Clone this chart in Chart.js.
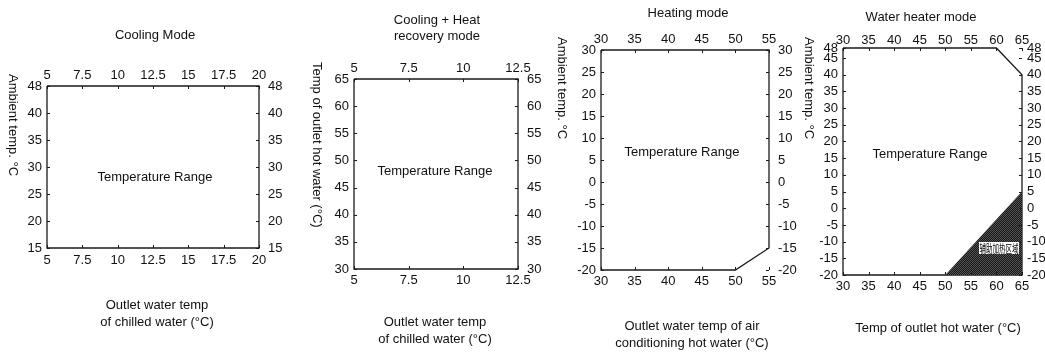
<!DOCTYPE html>
<html><head><meta charset="utf-8">
<script src="https://cdn.jsdelivr.net/npm/chart.js@4/dist/chart.umd.min.js"></script>
<style>
html,body{margin:0;padding:0;background:#fff;width:1045px;height:356px;overflow:hidden}
#wrap{position:relative;width:1045px;height:356px}
canvas{position:absolute;left:0;top:0}
</style></head><body>
<div id="wrap">
<canvas id="c1" width="1045" height="356"></canvas>
<canvas id="c2" width="1045" height="356"></canvas>
<canvas id="c3" width="1045" height="356"></canvas>
<canvas id="c4" width="1045" height="356"></canvas>
</div>
<script>
// ---- data ----
// Panel 1: Cooling Mode
const coolXTicks = [5, 7.5, 10, 12.5, 15, 17.5, 20];
const coolYLabels = ['48', '40', '35', '30', '25', '20', '15'];
const coolRegion = [{x:5,y:'48'},{x:20,y:'48'},{x:20,y:'15'},{x:5,y:'15'},{x:5,y:'48'}];
// Panel 2: Cooling + Heat recovery mode
const recXTicks = [5, 7.5, 10, 12.5];
const recYTicks = [30, 35, 40, 45, 50, 55, 60, 65];
const recRegion = [{x:5,y:65},{x:12.5,y:65},{x:12.5,y:30},{x:5,y:30},{x:5,y:65}];
// Panel 3: Heating mode
const heatXTicks = [30, 35, 40, 45, 50, 55];
const heatYTicks = [-20, -15, -10, -5, 0, 5, 10, 15, 20, 25, 30];
const heatRegion = [{x:30,y:30},{x:55,y:30},{x:55,y:-15},{x:50,y:-20},{x:30,y:-20},{x:30,y:30}];
// Panel 4: Water heater mode
const whXTicks = [30, 35, 40, 45, 50, 55, 60, 65];
const whYTicks = [-20, -15, -10, -5, 0, 5, 10, 15, 20, 25, 30, 35, 40, 45, 48];
const whRegion = [{x:30,y:48},{x:60,y:48},{x:65,y:40},{x:65,y:-20},{x:30,y:-20},{x:30,y:48}];
const whAuxEdge = [{x:50,y:-20},{x:65,y:5}];

// ---- style ----
const FONT = '"Liberation Sans", Arial, sans-serif';
Chart.defaults.font.family = FONT;
Chart.defaults.font.size = 13;
Chart.defaults.color = '#111';
const INK = '#1a1a1a';
const SIZE = {left: 40, right: 40, top: 30, bottom: 25};

function axisCommon(axis, pos, pad, size) {
  return {
    axis: axis, position: pos, display: true,
    afterFit: s => { if (axis === 'x') s.height = size; else s.width = size; },
    grid: {display: false, drawTicks: false},
    border: {display: false},
    ticks: {autoSkip: false, maxRotation: 0, minRotation: 0, padding: pad, color: '#111', font: {size: 13}}
  };
}
function linAxis(axis, pos, pad, min, max, ticks, size) {
  const o = axisCommon(axis, pos, pad, size === undefined ? SIZE[pos] : size);
  o.type = 'linear'; o.min = min; o.max = max;
  o.afterBuildTicks = s => { s.ticks = ticks.map(v => ({value: v})); };
  o.ticks.callback = v => String(v);
  return o;
}
function catAxis(axis, pos, pad, labels) {
  const o = axisCommon(axis, pos, pad, SIZE[pos]);
  o.type = 'category'; o.labels = labels; o.offset = false;
  return o;
}

const deco = {
  id: 'deco',
  afterDraw(chart, args, o) {
    const ctx = chart.ctx, a = chart.chartArea;
    const sx = chart.scales.x, sx2 = chart.scales.x2, sy = chart.scales.y, sy2 = chart.scales.y2;
    ctx.save();
    // inward tick marks
    ctx.strokeStyle = INK; ctx.lineWidth = 1;
    const L = 3;
    ctx.beginPath();
    sx.ticks.forEach((t, i) => { const p = Math.round(sx.getPixelForTick(i)) + 0.5; ctx.moveTo(p, a.bottom); ctx.lineTo(p, a.bottom - L); });
    sx2.ticks.forEach((t, i) => { const p = Math.round(sx2.getPixelForTick(i)) + 0.5; ctx.moveTo(p, a.top); ctx.lineTo(p, a.top + L); });
    sy.ticks.forEach((t, i) => { const p = Math.round(sy.getPixelForTick(i)) + 0.5; ctx.moveTo(a.left, p); ctx.lineTo(a.left + L, p); });
    sy2.ticks.forEach((t, i) => { const p = Math.round(sy2.getPixelForTick(i)) + 0.5; ctx.moveTo(a.right, p); ctx.lineTo(a.right - L, p); });
    ctx.stroke();
    // texts
    ctx.fillStyle = '#111';
    ctx.font = '13px ' + FONT;
    ctx.textAlign = 'center'; ctx.textBaseline = 'middle';
    (o.texts || []).forEach(t => ctx.fillText(t.s, t.x, t.y));
    if (o.range) ctx.fillText('Temperature Range', sx.getPixelForValue(o.range[0]), sy.getPixelForValue(o.range[1]));
    if (o.yTitle) {
      ctx.save();
      ctx.translate(o.yTitle.x, o.yTitle.y);
      ctx.rotate(Math.PI / 2);
      ctx.textAlign = 'left'; ctx.textBaseline = 'middle';
      ctx.fillText(o.yTitle.s, 0, 0);
      ctx.restore();
    }
    if (o.note) {
      const px = sx.getPixelForValue(o.note.x), py = sy.getPixelForValue(o.note.y);
      const w = o.note.w, h = 12;
      ctx.fillStyle = '#fff';
      ctx.fillRect(Math.round(px - w / 2), Math.round(py - h / 2), w, h);
      ctx.fillStyle = '#000';
      ctx.font = '11px "Noto Sans CJK SC", sans-serif';
      ctx.fillText(o.note.s, px, py + 0.5, w - 1);
    }
    ctx.restore();
  }
};

function lineDs(data) {
  return {data: data, showLine: true, borderColor: INK, borderWidth: 1.3, pointRadius: 0, tension: 0, fill: false, clip: 6, xAxisID: 'x', yAxisID: 'y'};
}

function make(id, box, scales, datasets, decoOpts) {
  const rw = box.rw === undefined ? SIZE.right : box.rw;
  const padding = {
    left: box.l - SIZE.left,
    right: 1045 - box.r - rw,
    top: box.t - SIZE.top,
    bottom: 356 - box.b - SIZE.bottom
  };
  return new Chart(document.getElementById(id), {
    type: 'scatter',
    data: {datasets: datasets},
    options: {
      responsive: false, animation: false, events: [],
      layout: {padding: padding},
      scales: scales,
      plugins: {legend: {display: false}, tooltip: {enabled: false}, deco: decoOpts}
    },
    plugins: [deco]
  });
}

// Panel 1
make('c1', {l: 47, r: 259, t: 86, b: 248}, {
  x: linAxis('x', 'bottom', 5, 5, 20, coolXTicks),
  x2: linAxis('x', 'top', 3, 5, 20, coolXTicks),
  y: catAxis('y', 'left', 5, coolYLabels),
  y2: catAxis('y', 'right', 9, coolYLabels)
}, [lineDs(coolRegion)], {
  texts: [{s: 'Cooling Mode', x: 155, y: 35},
          {s: 'Outlet water temp', x: 157, y: 305},
          {s: 'of chilled water (°C)', x: 157, y: 322}],
  range: [12.64, 3.37],
  yTitle: {s: 'Ambient temp. °C', x: 13, y: 74}
});

// Panel 2
make('c2', {l: 354, r: 518, t: 79, b: 269}, {
  x: linAxis('x', 'bottom', 4, 5, 12.5, recXTicks),
  x2: linAxis('x', 'top', 3, 5, 12.5, recXTicks),
  y: linAxis('y', 'left', 5, 30, 65, recYTicks),
  y2: linAxis('y', 'right', 9, 30, 65, recYTicks)
}, [lineDs(recRegion)], {
  texts: [{s: 'Cooling + Heat', x: 437, y: 20},
          {s: 'recovery mode', x: 437, y: 36},
          {s: 'Outlet water temp', x: 435, y: 322},
          {s: 'of chilled water (°C)', x: 435, y: 339}],
  range: [8.7, 47.9],
  yTitle: {s: 'Temp of outlet hot water (°C)', x: 317, y: 62}
});

// Panel 3
make('c3', {l: 601, r: 769, t: 50, b: 270}, {
  x: linAxis('x', 'bottom', 4, 30, 55, heatXTicks),
  x2: linAxis('x', 'top', 3, 30, 55, heatXTicks),
  y: linAxis('y', 'left', 5, -20, 30, heatYTicks),
  y2: linAxis('y', 'right', 9, -20, 30, heatYTicks)
}, [lineDs(heatRegion)], {
  texts: [{s: 'Heating mode', x: 688, y: 13},
          {s: 'Outlet water temp of air', x: 692, y: 326},
          {s: 'conditioning hot water (°C)', x: 692, y: 343}],
  range: [42.05, 6.67],
  yTitle: {s: 'Ambient temp. °C', x: 562, y: 37}
});

// Panel 4
const tile = document.createElement('canvas');
tile.width = 2; tile.height = 2;
const tg = tile.getContext('2d');
tg.fillStyle = '#161616'; tg.fillRect(0, 0, 2, 2);
tg.fillStyle = '#555'; tg.fillRect(0, 0, 1, 1); tg.fillRect(1, 1, 1, 1);
const hatch = document.getElementById('c4').getContext('2d').createPattern(tile, 'repeat');

make('c4', {l: 843, r: 1022, t: 48, b: 275, rw: 23}, {
  x: linAxis('x', 'bottom', 4, 30, 65, whXTicks),
  x2: linAxis('x', 'top', 0, 30, 65, whXTicks),
  y: linAxis('y', 'left', 5, -20, 48, whYTicks),
  y2: linAxis('y', 'right', 5, -20, 48, whYTicks, 23)
}, [
  {data: whAuxEdge, showLine: true, borderWidth: 0, borderColor: 'rgba(0,0,0,0)', backgroundColor: hatch, pointRadius: 0, tension: 0, fill: 'start', clip: 0, xAxisID: 'x', yAxisID: 'y'},
  lineDs(whRegion)
], {
  texts: [{s: 'Water heater mode', x: 921, y: 17},
          {s: 'Temp of outlet hot water (°C)', x: 938, y: 328}],
  range: [47.0, 16.0],
  yTitle: {s: 'Ambient temp. °C', x: 809, y: 37},
  note: {s: '辅助加热区域', x: 60.5, y: -12, w: 40}
});
</script>
</body></html>
